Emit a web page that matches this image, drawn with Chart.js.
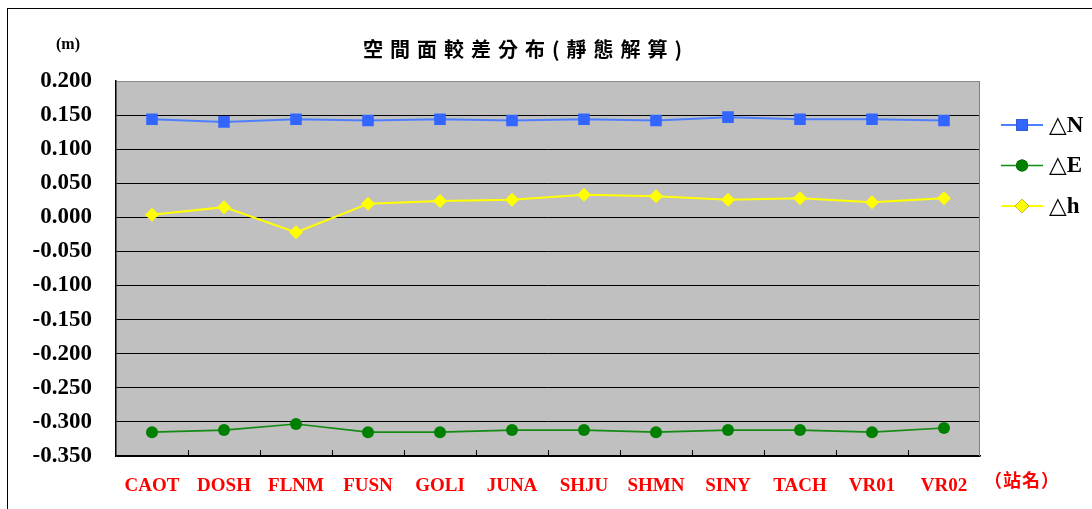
<!DOCTYPE html>
<html>
<head>
<meta charset="utf-8">
<title>空間面較差分布(靜態解算)</title>
<script src="https://cdn.jsdelivr.net/npm/chart.js@4/dist/chart.umd.min.js"></script>
<style>
  html, body { margin: 0; padding: 0; background: #fff; overflow: hidden; }
  #wrap { position: relative; width: 1092px; height: 509px; }
  #frame { position: absolute; left: 7px; top: 8px; width: 1200px; height: 600px;
           border-left: 1px solid #000; border-top: 1px solid #000; pointer-events: none; }
  canvas { position: absolute; left: 0; top: 0; }
</style>
</head>
<body>
<div id="wrap">
  <canvas id="chart" width="1092" height="509"></canvas>
  <div id="frame"></div>
</div>
<script>
// Stations and coordinate differences (m), static solution
const stations = ['CAOT', 'DOSH', 'FLNM', 'FUSN', 'GOLI', 'JUNA', 'SHJU', 'SHMN', 'SINY', 'TACH', 'VR01', 'VR02'];
const deltaN = [0.144, 0.140, 0.144, 0.142, 0.144, 0.142, 0.144, 0.142, 0.147, 0.144, 0.144, 0.142];
const deltaE = [-0.315, -0.312, -0.303, -0.315, -0.315, -0.312, -0.312, -0.315, -0.312, -0.312, -0.315, -0.309];
const deltaH = [0.004, 0.015, -0.022, 0.020, 0.024, 0.026, 0.033, 0.031, 0.026, 0.028, 0.022, 0.028];
const yTickValues = [0.200, 0.150, 0.100, 0.050, 0.000, -0.050, -0.100, -0.150, -0.200, -0.250, -0.300, -0.350];
const seriesNames = ['△N', '△E', '△h'];

const titleText = '空間面較差分布(靜態解算)';
const unitText = '(m)';
const xAxisText = '（站名）';

const SERIF = '"Liberation Serif", "Times New Roman", serif';
const CJK = '"Noto Sans CJK TC", "Noto Sans CJK SC", sans-serif';

// gray plot background
const plotBackground = {
  id: 'plotBackground',
  beforeDraw(chart) {
    const { ctx, chartArea: a } = chart;
    ctx.save();
    ctx.fillStyle = '#c0c0c0';
    ctx.fillRect(a.left, a.top, a.right - a.left, a.bottom - a.top);
    ctx.restore();
  }
};

// right border of the plot and the small category tick marks on the bottom axis
const plotFrame = {
  id: 'plotFrame',
  afterDraw(chart) {
    const { ctx, chartArea: a } = chart;
    const xs = chart.scales.x;
    ctx.save();
    ctx.strokeStyle = '#808080';
    ctx.lineWidth = 1;
    ctx.beginPath();
    ctx.moveTo(a.right - 0.5, a.top);
    ctx.lineTo(a.right - 0.5, a.bottom);
    ctx.stroke();
    ctx.strokeStyle = '#000';
    ctx.beginPath();
    const n = stations.length;
    for (let i = 1; i < n; i++) {
      const x = Math.round((xs.getPixelForValue(i - 1) + xs.getPixelForValue(i)) / 2) + 0.5;
      ctx.moveTo(x, a.bottom);
      ctx.lineTo(x, a.bottom - 6);
    }
    ctx.stroke();
    ctx.restore();
  }
};

// title, unit label and axis name
const texts = {
  id: 'texts',
  afterDraw(chart) {
    const ctx = chart.ctx;
    ctx.save();
    ctx.fillStyle = '#000';
    ctx.textBaseline = 'middle';
    ctx.textAlign = 'left';
    ctx.font = 'bold 20px ' + CJK;
    ctx.letterSpacing = '7px';
    ctx.fillText(titleText, 363, 49);
    ctx.letterSpacing = '0px';
    ctx.textAlign = 'center';
    ctx.font = 'bold 16px ' + SERIF;
    ctx.fillText(unitText, 68, 45);
    ctx.fillStyle = '#ff0000';
    ctx.font = 'bold 18px ' + CJK;
    ctx.letterSpacing = '1px';
    ctx.fillText(xAxisText, 1022, 480);
    ctx.restore();
  }
};

// legend: line with marker, then series name
const sideLegend = {
  id: 'sideLegend',
  afterDraw(chart) {
    const ctx = chart.ctx;
    ctx.save();
    chart.data.datasets.forEach((ds, i) => {
      const y = 125 + i * 40.5;
      ctx.strokeStyle = ds.borderColor;
      ctx.lineWidth = ds.borderWidth;
      ctx.beginPath();
      ctx.moveTo(1001, y);
      ctx.lineTo(1043, y);
      ctx.stroke();
      Chart.helpers.drawPoint(ctx, {
        pointStyle: ds.pointStyle,
        radius: ds.pointRadius,
        rotation: 0,
        borderWidth: ds.pointBorderWidth
      }, 1022, y);
      ctx.fillStyle = ds.pointBackgroundColor;
      ctx.strokeStyle = ds.pointBorderColor;
      ctx.lineWidth = ds.pointBorderWidth;
      ctx.fill();
      if (ds.pointBorderWidth > 0) ctx.stroke();
      ctx.fillStyle = '#000';
      ctx.font = 'bold 23px ' + SERIF + ', "DejaVu Sans"';
      ctx.textAlign = 'left';
      ctx.textBaseline = 'middle';
      ctx.fillText(ds.label, 1049, y + 1);
    });
    ctx.restore();
  }
};

new Chart(document.getElementById('chart'), {
  type: 'line',
  data: {
    labels: stations,
    datasets: [
      {
        label: seriesNames[0], data: deltaN,
        borderColor: '#4d7fff', borderWidth: 2,
        pointStyle: 'rect', pointRadius: 8.2,
        pointBackgroundColor: '#3366ff', pointBorderColor: '#3366ff', pointBorderWidth: 0
      },
      {
        label: seriesNames[1], data: deltaE,
        borderColor: '#138a13', borderWidth: 1.6,
        pointStyle: 'circle', pointRadius: 6,
        pointBackgroundColor: '#008000', pointBorderColor: '#008000', pointBorderWidth: 0
      },
      {
        label: seriesNames[2], data: deltaH,
        borderColor: '#ffff00', borderWidth: 2,
        pointStyle: 'rectRot', pointRadius: 7,
        pointBackgroundColor: '#ffff00', pointBorderColor: '#ffff00', pointBorderWidth: 0
      }
    ]
  },
  options: {
    responsive: false,
    devicePixelRatio: 1,
    animation: false,
    events: [],
    layout: { padding: { top: 81, right: 112, left: 0, bottom: 0 } },
    elements: { line: { tension: 0 } },
    plugins: { legend: { display: false }, title: { display: false }, tooltip: { enabled: false } },
    scales: {
      x: {
        type: 'category',
        offset: true,
        grid: { display: false },
        border: { display: true, color: '#000', width: 1.5 },
        ticks: {
          color: '#ff0000',
          font: { family: SERIF, size: 19, weight: 'bold' },
          padding: 11,
          autoSkip: false,
          maxRotation: 0
        },
        afterFit(scale) { scale.height = 53; }
      },
      y: {
        min: -0.35,
        max: 0.2,
        afterBuildTicks(scale) { scale.ticks = yTickValues.map(v => ({ value: v })); },
        grid: {
          drawTicks: false,
          color: ctx => (ctx.tick && Math.abs(ctx.tick.value - 0.2) < 1e-9) ? '#8a8a8a' : '#000',
          lineWidth: 1
        },
        border: { display: true, color: '#000', width: 1.5 },
        ticks: {
          color: '#000',
          font: { family: SERIF, size: 23, weight: 'bold' },
          padding: 24,
          callback: v => (Math.abs(v) < 1e-9 ? 0 : v).toFixed(3)
        },
        afterFit(scale) { scale.width = 116; }
      }
    }
  },
  plugins: [plotBackground, plotFrame, texts, sideLegend]
});
</script>
</body>
</html>
